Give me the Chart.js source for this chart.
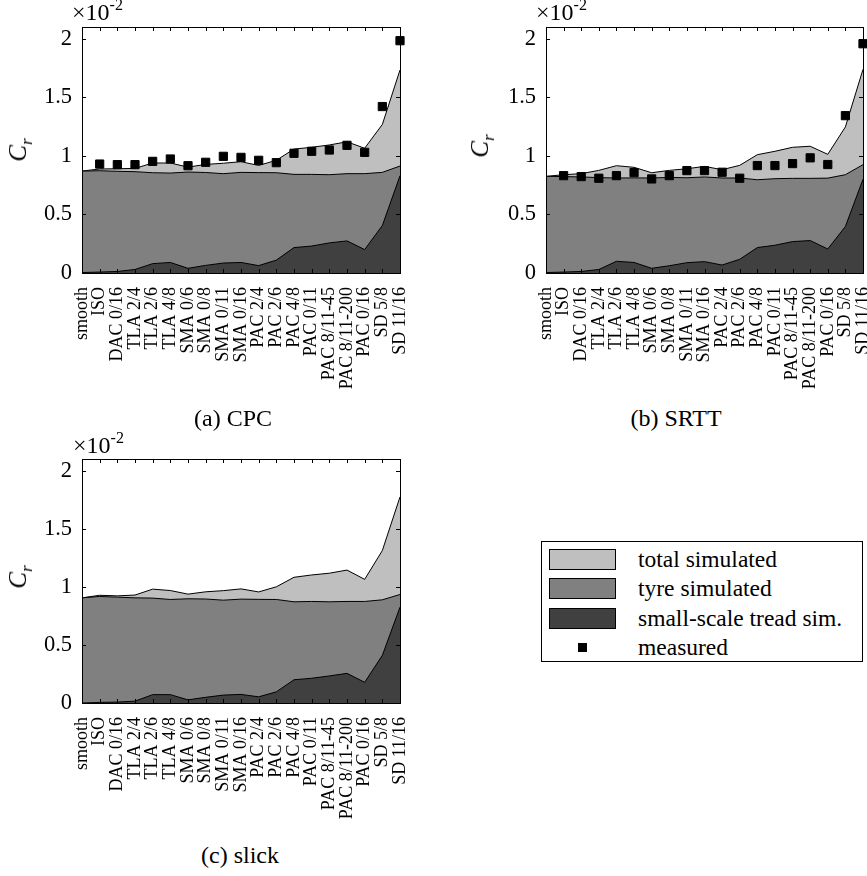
<!DOCTYPE html>
<html>
<head>
<meta charset="utf-8">
<script src="https://cdn.jsdelivr.net/npm/chart.js@4"></script>
<style>
  html, body { margin: 0; padding: 0; background: #fff; overflow: hidden; }
  #fig { position: relative; width: 867px; height: 876px; overflow: hidden; font-family: 'Liberation Serif', 'Times New Roman', serif; color: #000; }
  canvas { position: absolute; }
  .cap { position: absolute; font-size: 24px; line-height: 24px; white-space: nowrap; transform: translateX(-50%); }
  .mult { position: absolute; font-size: 24px; line-height: 24px; white-space: nowrap; }
  .mult span { font-size: 16px; position: relative; top: -10px; }
  .ylab { position: absolute; font-style: italic; font-size: 25px; line-height: 25px; white-space: nowrap; transform: translate(-50%, -50%) rotate(-90deg); }
  .ylab span { font-size: 17px; position: relative; top: 6px; }
  #legend { position: absolute; left: 541px; top: 541px; width: 322px; height: 121px; border: 1px solid #000; box-sizing: border-box; background: #fff; }
  .row { position: absolute; left: 0; height: 29px; width: 100%; }
  .sw { position: absolute; left: 7px; top: 4px; width: 67px; height: 21px; border: 1px solid #000; box-sizing: border-box; }
  .mk { position: absolute; left: 36px; top: 10px; width: 9px; height: 9px; background: #000; }
  .lt { position: absolute; left: 96px; top: 2px; font-size: 23.5px; line-height: 24px; white-space: nowrap; }
</style>
</head>
<body>
<div id="fig">
  <canvas id="panelA" width="440" height="400" style="left:0;top:0"></canvas>
  <canvas id="panelB" width="440" height="400" style="left:440px;top:0"></canvas>
  <canvas id="panelC" width="440" height="400" style="left:0;top:432px"></canvas>

  <div class="mult" style="left:72px;top:0px">×10<span>-2</span></div>
  <div class="mult" style="left:536px;top:0px">×10<span>-2</span></div>
  <div class="mult" style="left:73px;top:433px">×10<span>-2</span></div>

  <div class="ylab" style="left:19px;top:150px">C<span>r</span></div>
  <div class="ylab" style="left:481px;top:146px">C<span>r</span></div>
  <div class="ylab" style="left:19px;top:577px">C<span>r</span></div>

  <div class="cap" style="left:233px;top:406px">(a) CPC</div>
  <div class="cap" style="left:676px;top:406px">(b) SRTT</div>
  <div class="cap" style="left:240px;top:843px">(c) slick</div>

  <div id="legend"></div>
</div>
<script>
// Road surfaces along the x axis
const categories = ['smooth', 'ISO', 'DAC 0/16', 'TLA 2/4', 'TLA 2/6', 'TLA 4/8',
  'SMA 0/6', 'SMA 0/8', 'SMA 0/11', 'SMA 0/16', 'PAC 2/4', 'PAC 2/6', 'PAC 4/8',
  'PAC 0/11', 'PAC 8/11-45', 'PAC 8/11-200', 'PAC 0/16', 'SD 5/8', 'SD 11/16'];

// Rolling resistance coefficient C_r, in units of 1e-2
const yTickValues = [0, 0.5, 1, 1.5, 2];

// (a) CPC tyre
const cpcTotal    = [0.870, 0.888, 0.890, 0.893, 0.939, 0.939, 0.904, 0.927, 0.937, 0.950, 0.918, 0.962, 1.058, 1.073, 1.093, 1.120, 1.065, 1.268, 1.733];
const cpcTyre     = [0.870, 0.873, 0.868, 0.865, 0.856, 0.853, 0.862, 0.858, 0.848, 0.859, 0.857, 0.856, 0.842, 0.842, 0.839, 0.848, 0.848, 0.859, 0.913];
const cpcTread    = [0.004, 0.008, 0.013, 0.030, 0.080, 0.090, 0.040, 0.065, 0.085, 0.090, 0.063, 0.110, 0.217, 0.230, 0.257, 0.274, 0.200, 0.405, 0.830];
const cpcMeasured = [null, 0.930, 0.925, 0.925, 0.953, 0.973, 0.916, 0.945, 0.996, 0.987, 0.962, 0.942, 1.022, 1.039, 1.050, 1.090, 1.030, 1.421, 1.983];

// (b) SRTT tyre
const srttTotal    = [0.825, 0.839, 0.848, 0.876, 0.916, 0.902, 0.856, 0.876, 0.890, 0.910, 0.882, 0.919, 1.010, 1.039, 1.073, 1.082, 1.013, 1.247, 1.738];
const srttTyre     = [0.825, 0.823, 0.820, 0.814, 0.811, 0.812, 0.811, 0.816, 0.813, 0.820, 0.811, 0.811, 0.796, 0.805, 0.808, 0.808, 0.810, 0.839, 0.925];
const srttTread    = [0.004, 0.008, 0.013, 0.030, 0.100, 0.090, 0.040, 0.062, 0.088, 0.097, 0.068, 0.117, 0.217, 0.237, 0.268, 0.277, 0.205, 0.397, 0.800];
const srttMeasured = [null, 0.831, 0.823, 0.809, 0.831, 0.857, 0.803, 0.831, 0.874, 0.874, 0.860, 0.809, 0.917, 0.917, 0.934, 0.983, 0.926, 1.343, 1.957];

// (c) slick tyre (simulation only)
const slickTotal = [0.905, 0.927, 0.922, 0.929, 0.980, 0.968, 0.937, 0.957, 0.967, 0.982, 0.956, 1.000, 1.082, 1.102, 1.117, 1.144, 1.064, 1.312, 1.774];
const slickTyre  = [0.905, 0.917, 0.911, 0.905, 0.903, 0.891, 0.897, 0.895, 0.885, 0.894, 0.892, 0.891, 0.871, 0.874, 0.871, 0.874, 0.874, 0.888, 0.934];
const slickTread = [0.000, 0.005, 0.008, 0.016, 0.072, 0.072, 0.027, 0.049, 0.068, 0.074, 0.053, 0.096, 0.200, 0.213, 0.233, 0.255, 0.178, 0.410, 0.825];

const COLORS = { total: '#bfbfbf', tyre: '#808080', tread: '#404040', measured: '#000000' };
const legendEntries = [
  { label: 'total simulated', kind: 'area', color: COLORS.total },
  { label: 'tyre simulated', kind: 'area', color: COLORS.tyre },
  { label: 'small-scale tread sim.', kind: 'area', color: COLORS.tread },
  { label: 'measured', kind: 'marker', color: COLORS.measured }
];

Chart.defaults.font.family = "'Liberation Serif', 'Times New Roman', serif";
Chart.defaults.color = '#000';

// Box frame with inward ticks on all four sides
const frameTicks = {
  id: 'frameTicks',
  afterDatasetsDraw(chart) {
    const { ctx, chartArea: a, scales: { x, y } } = chart;
    const L = 4;
    ctx.save();
    ctx.strokeStyle = '#000';
    ctx.lineWidth = 1;
    ctx.beginPath();
    x.ticks.forEach((t, i) => {
      const px = Math.round(x.getPixelForTick(i)) + 0.5;
      ctx.moveTo(px, a.top); ctx.lineTo(px, a.top + L);
      ctx.moveTo(px, a.bottom); ctx.lineTo(px, a.bottom - L);
    });
    y.ticks.forEach((t, i) => {
      const py = Math.round(y.getPixelForTick(i)) + 0.5;
      ctx.moveTo(a.left, py); ctx.lineTo(a.left + L, py);
      ctx.moveTo(a.right, py); ctx.lineTo(a.right - L, py);
    });
    ctx.stroke();
    ctx.strokeRect(Math.round(a.left) + 0.5, Math.round(a.top) + 0.5,
                   Math.round(a.right - a.left), Math.round(a.bottom - a.top));
    ctx.restore();
  }
};

function areaSet(label, data, color, order) {
  return {
    label, data, order,
    fill: 'origin',
    backgroundColor: color,
    borderColor: '#000',
    borderWidth: 1,
    pointRadius: 0,
    tension: 0
  };
}

function makePanel(id, area, s) {
  const canvas = document.getElementById(id);
  const W = canvas.width, H = canvas.height;
  const datasets = [];
  if (s.measured) {
    datasets.push({
      label: 'measured', data: s.measured, order: 0,
      showLine: false, pointStyle: 'rect', pointRadius: 5.8,
      pointBackgroundColor: COLORS.measured, pointBorderColor: COLORS.measured,
      pointBorderWidth: 1, clip: false
    });
  }
  datasets.push(areaSet('small-scale tread sim.', s.tread, COLORS.tread, 1));
  datasets.push(areaSet('tyre simulated', s.tyre, COLORS.tyre, 2));
  datasets.push(areaSet('total simulated', s.total, COLORS.total, 3));

  return new Chart(canvas, {
    type: 'line',
    data: { labels: categories, datasets },
    options: {
      responsive: false,
      animation: false,
      devicePixelRatio: 1,
      layout: { autoPadding: false, padding: { left: 0, top: area.top, right: W - area.right, bottom: 0 } },
      plugins: { legend: { display: false }, tooltip: { enabled: false } },
      scales: {
        x: {
          type: 'category', offset: false,
          grid: { display: false, drawTicks: false },
          border: { display: false },
          ticks: { autoSkip: false, minRotation: 90, maxRotation: 90, padding: 14, font: { size: 18 } },
          afterFit(sc) { sc.height = H - area.bottom; sc.paddingLeft = 0; sc.paddingRight = 0; }
        },
        y: {
          min: 0, max: 2.1,
          grid: { display: false, drawTicks: false },
          border: { display: false },
          afterBuildTicks(sc) { sc.ticks = yTickValues.map(v => ({ value: v })); },
          ticks: { padding: 10, font: { size: 22.5 }, callback: v => String(v) },
          afterFit(sc) { sc.width = area.left; sc.paddingTop = 0; sc.paddingBottom = 0; }
        }
      }
    },
    plugins: [frameTicks]
  });
}

makePanel('panelA', { left: 82, right: 400, top: 27, bottom: 273 },
  { total: cpcTotal, tyre: cpcTyre, tread: cpcTread, measured: cpcMeasured });
makePanel('panelB', { left: 106, right: 423, top: 27, bottom: 273 },
  { total: srttTotal, tyre: srttTyre, tread: srttTread, measured: srttMeasured });
makePanel('panelC', { left: 82, right: 400, top: 27, bottom: 271 },
  { total: slickTotal, tyre: slickTyre, tread: slickTread });

// Shared legend
const legend = document.getElementById('legend');
legendEntries.forEach((e, i) => {
  const row = document.createElement('div');
  row.className = 'row';
  row.style.top = (3 + i * 29.3) + 'px';
  const sym = document.createElement('div');
  if (e.kind === 'area') { sym.className = 'sw'; sym.style.background = e.color; }
  else { sym.className = 'mk'; sym.style.background = e.color; }
  const txt = document.createElement('div');
  txt.className = 'lt';
  txt.textContent = e.label;
  row.appendChild(sym);
  row.appendChild(txt);
  legend.appendChild(row);
});
</script>
</body>
</html>
